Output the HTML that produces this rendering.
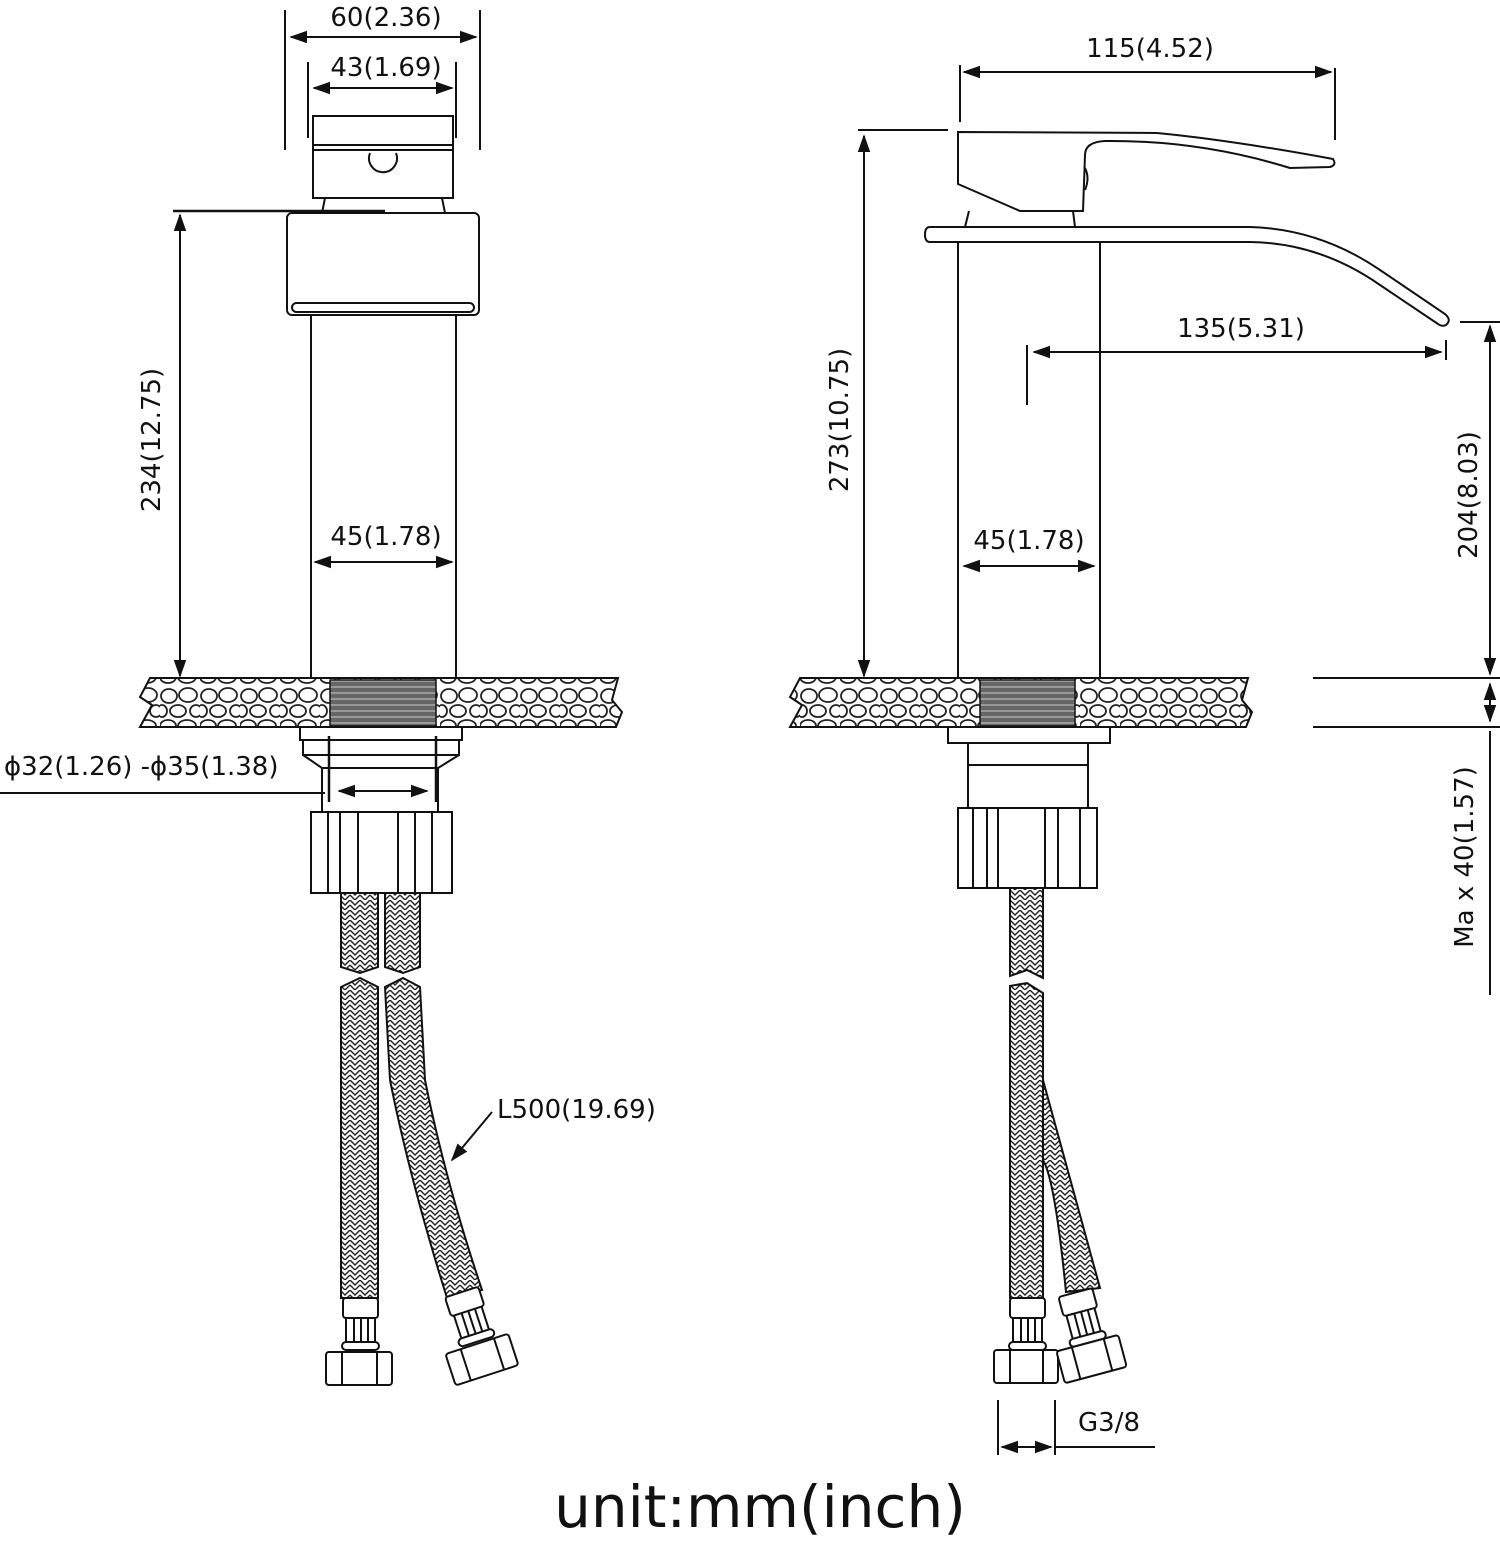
<!DOCTYPE html>
<html><head><meta charset="utf-8"><style>
html,body{margin:0;padding:0;background:#fff}
svg{display:block}
text{font-family:"DejaVu Sans","Liberation Sans",sans-serif;fill:#111}
</style></head><body>
<svg width="1500" height="1542" viewBox="0 0 1500 1542" xmlns="http://www.w3.org/2000/svg">
<defs>
<marker id="a" viewBox="0 0 10 10" refX="9" refY="5" markerWidth="9" markerHeight="9" orient="auto-start-reverse"><path d="M0,1.5 L10,5 L0,8.5z" fill="#111"/></marker>
<pattern id="stone" width="40" height="49" patternUnits="userSpaceOnUse">
<rect width="40" height="49" fill="#fff"/>
<g fill="none" stroke="#222" stroke-width="1.8">
<ellipse cx="9" cy="10" rx="8" ry="7"/><ellipse cx="28" cy="9" rx="9" ry="7"/>
<ellipse cx="18" cy="25" rx="8" ry="6"/><ellipse cx="36" cy="25" rx="6" ry="6"/><ellipse cx="2" cy="25" rx="5" ry="6"/>
<ellipse cx="8" cy="40" rx="8" ry="6"/><ellipse cx="27" cy="40" rx="9" ry="6"/>
</g></pattern>
<pattern id="braid" width="10" height="10" patternUnits="userSpaceOnUse">
<rect width="10" height="10" fill="#fff"/>
<path d="M0,0 L5,5 L10,0 M0,5 L5,10 L10,5" fill="none" stroke="#222" stroke-width="1.4"/>
</pattern>
<pattern id="thread" width="6" height="6" patternUnits="userSpaceOnUse">
<rect width="6" height="6" fill="#666"/><line x1="0" y1="3" x2="6" y2="3" stroke="#ccc" stroke-width="1"/>
</pattern>
</defs>

<g stroke="#111" stroke-width="2" fill="none">
<!-- ===== LEFT ===== -->
<line x1="285" y1="10" x2="285" y2="150"/><line x1="480" y1="10" x2="480" y2="150"/>
<line x1="291" y1="37" x2="476" y2="37" marker-start="url(#a)" marker-end="url(#a)"/>
<line x1="308" y1="62" x2="308" y2="138"/><line x1="456" y1="62" x2="456" y2="138"/>
<line x1="314" y1="88" x2="452" y2="88" marker-start="url(#a)" marker-end="url(#a)"/>
<rect x="313" y="116" width="140" height="82"/>
<line x1="313" y1="145" x2="453" y2="145"/><line x1="313" y1="150" x2="453" y2="150"/>
<path d="M370,153 A14,14 0 1 0 396,153"/>
<path d="M325,198 L322,213 M442,198 L445,213"/>
<rect x="287" y="213" width="192" height="102" rx="5"/>
<rect x="292" y="303" width="182" height="9" rx="4.5"/>
<line x1="311" y1="315" x2="311" y2="678"/><line x1="456" y1="315" x2="456" y2="678"/>
<line x1="173" y1="211" x2="385" y2="211" stroke-width="2.5"/>
<line x1="180" y1="215" x2="180" y2="676" marker-start="url(#a)" marker-end="url(#a)"/>
<line x1="315" y1="562" x2="452" y2="562" marker-start="url(#a)" marker-end="url(#a)"/>
<!-- counter -->
<path d="M150,678 L618,678 L612,700 L622,712 L616,727 L140,727 L152,705 L140,697z" fill="url(#stone)"/>
<rect x="330" y="680" width="106" height="46" fill="url(#thread)" stroke-width="1.5"/>
<rect x="300" y="727" width="162" height="13"/>
<rect x="303" y="740" width="156" height="15"/>
<path d="M303,755 L322,768 L322,812 M459,755 L438,768 L438,812 M322,768 L438,768"/>
<line x1="329" y1="736" x2="329" y2="802" stroke-width="2.5"/><line x1="436" y1="736" x2="436" y2="802" stroke-width="2.5"/>
<line x1="339" y1="791" x2="427" y2="791" marker-start="url(#a)" marker-end="url(#a)"/>
<line x1="0" y1="793" x2="325" y2="793"/>
<rect x="311" y="812" width="141" height="81"/>
<path d="M328,812V893 M340,812V893 M358,812V893 M398,812V893 M415,812V893 M432,812V893"/>
<!-- hoses -->
<path d="M341,893 L378,893 L378,967 L360,973 L341,967z" fill="url(#braid)"/>
<path d="M341,987 L360,978 L378,987 L378,1298 L341,1298z" fill="url(#braid)"/>
<path d="M385,893 L420,893 L420,967 L403,973 L385,967z" fill="url(#braid)"/>
<path d="M385,987 L403,978 L420,987 L425,1080 Q445,1180 482,1290 L447,1298 Q410,1180 390,1080z" fill="url(#braid)"/>
<!-- left connector -->
<rect x="343" y="1298" width="35" height="20" rx="3" fill="#fff"/>
<path d="M346,1318V1342 M354,1318V1342 M361,1318V1342 M368,1318V1342 M375,1318V1342"/>
<rect x="342" y="1342" width="37" height="8" rx="4" fill="#fff"/>
<rect x="326" y="1352" width="66" height="33" rx="3" fill="#fff"/>
<path d="M342,1352V1385 M377,1352V1385"/>
<!-- right connector rotated -->
<g transform="rotate(-18 475 1335)">
<rect x="458" y="1290" width="35" height="20" rx="3" fill="#fff"/>
<path d="M461,1310V1334 M469,1310V1334 M476,1310V1334 M483,1310V1334 M490,1310V1334"/>
<rect x="457" y="1334" width="37" height="8" rx="4" fill="#fff"/>
<rect x="441" y="1344" width="66" height="33" rx="3" fill="#fff"/>
<path d="M457,1344V1377 M492,1344V1377"/>
</g>
<line x1="492" y1="1112" x2="452" y2="1160" marker-end="url(#a)"/>

<!-- ===== RIGHT ===== -->
<line x1="960" y1="65" x2="960" y2="122"/><line x1="1335" y1="68" x2="1335" y2="140"/>
<line x1="964" y1="72" x2="1331" y2="72" marker-start="url(#a)" marker-end="url(#a)"/>
<line x1="858" y1="130" x2="948" y2="130"/>
<line x1="864" y1="136" x2="864" y2="676" marker-start="url(#a)" marker-end="url(#a)"/>
<path d="M958,132 L1157,133 Q1230,140 1333,159 Q1337,165 1330,167 L1290,168 Q1200,140 1105,141 Q1085,142 1085,155 L1083,211 L1020,211 L958,184z"/>
<path d="M1085,168 Q1090,178 1085,190"/>
<path d="M969,211 L965,227 M1073,211 L1075,227"/>
<path d="M930,227 L1250,227 Q1320,229 1380,270 L1445,314 Q1452,320 1446,325 Q1442,327 1438,324 L1380,285 Q1320,243 1250,242 L930,242 Q925,242 925,234.5 Q925,227 930,227z"/>
<line x1="958" y1="242" x2="958" y2="678"/><line x1="1100" y1="242" x2="1100" y2="678"/>
<line x1="1027" y1="345" x2="1027" y2="405"/><line x1="1446" y1="340" x2="1446" y2="360"/>
<line x1="1034" y1="352" x2="1441" y2="352" marker-start="url(#a)" marker-end="url(#a)"/>
<line x1="964" y1="566" x2="1094" y2="566" marker-start="url(#a)" marker-end="url(#a)"/>
<line x1="1460" y1="322" x2="1500" y2="322"/>
<line x1="1490" y1="326" x2="1490" y2="674" marker-start="url(#a)" marker-end="url(#a)"/>
<line x1="1313" y1="678" x2="1500" y2="678"/><line x1="1313" y1="727" x2="1500" y2="727"/>
<line x1="1490" y1="684" x2="1490" y2="721" marker-start="url(#a)" marker-end="url(#a)"/>
<line x1="1490" y1="731" x2="1490" y2="995"/>
<path d="M800,678 L1248,678 L1242,700 L1252,712 L1246,727 L790,727 L802,705 L790,697z" fill="url(#stone)"/>
<rect x="980" y="680" width="95" height="46" fill="url(#thread)" stroke-width="1.5"/>
<rect x="948" y="727" width="162" height="16"/>
<path d="M968,743 L968,808 M1088,743 L1088,808 M968,765 L1088,765"/>
<rect x="958" y="808" width="139" height="80"/>
<path d="M973,808V888 M987,808V888 M998,808V888 M1045,808V888 M1058,808V888 M1080,808V888"/>
<path d="M1043,1080 Q1070,1180 1100,1288 L1066,1292 Q1055,1180 1043,1160z" fill="url(#braid)"/>
<path d="M1010,888 L1043,888 L1043,978 L1027,970 L1010,976z" fill="url(#braid)"/>
<path d="M1010,986 L1027,983 L1043,993 L1043,1298 L1010,1298z" fill="url(#braid)"/>
<rect x="1010" y="1298" width="35" height="20" rx="3" fill="#fff"/>
<path d="M1013,1318V1342 M1021,1318V1342 M1028,1318V1342 M1035,1318V1342 M1042,1318V1342"/>
<rect x="1009" y="1342" width="37" height="8" rx="4" fill="#fff"/>
<rect x="994" y="1350" width="64" height="33" rx="3" fill="#fff"/>
<path d="M1010,1350V1383 M1043,1350V1383"/>
<g transform="rotate(-15 1090 1330)">
<rect x="1068" y="1290" width="35" height="20" rx="3" fill="#fff"/>
<path d="M1071,1310V1334 M1079,1310V1334 M1086,1310V1334 M1093,1310V1334 M1100,1310V1334"/>
<rect x="1067" y="1334" width="37" height="8" rx="4" fill="#fff"/>
<rect x="1052" y="1342" width="64" height="33" rx="3" fill="#fff"/>
<path d="M1068,1342V1375 M1101,1342V1375"/>
</g>
<line x1="998" y1="1400" x2="998" y2="1455"/><line x1="1055" y1="1400" x2="1055" y2="1455"/>
<line x1="1002" y1="1447" x2="1051" y2="1447" marker-start="url(#a)" marker-end="url(#a)"/>
<line x1="1055" y1="1447" x2="1155" y2="1447"/>
</g>

<g font-size="26">
<text x="386" y="26" text-anchor="middle">60(2.36)</text>
<text x="386" y="76" text-anchor="middle">43(1.69)</text>
<text x="386" y="545" text-anchor="middle">45(1.78)</text>
<text transform="translate(160,440) rotate(-90)" text-anchor="middle">234(12.75)</text>
<text x="4" y="775">ϕ32(1.26)  -ϕ35(1.38)</text>
<text x="497" y="1118">L500(19.69)</text>
<text x="1150" y="57" text-anchor="middle">115(4.52)</text>
<text transform="translate(848,420) rotate(-90)" text-anchor="middle">273(10.75)</text>
<text x="1241" y="337" text-anchor="middle">135(5.31)</text>
<text x="1029" y="549" text-anchor="middle">45(1.78)</text>
<text transform="translate(1477,495) rotate(-90)" text-anchor="middle">204(8.03)</text>
<text transform="translate(1473,857) rotate(-90)" text-anchor="middle">Ma x 40(1.57)</text>
<text x="1078" y="1431">G3/8</text>
</g>
<text x="760" y="1527" font-size="58" text-anchor="middle">unit:mm(inch)</text>
</svg>
</body></html>
